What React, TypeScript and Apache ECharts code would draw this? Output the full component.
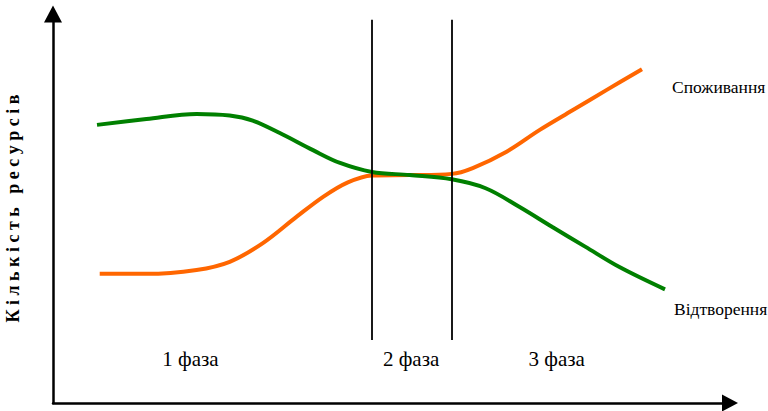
import React, { useEffect, useRef } from "react";
import * as echarts from "echarts";

// x: time (0..100 units), y: quantity of resources (0..100 units)
const consumptionX = [6.9, 13.8, 21.2, 26.1, 31.0, 36.0, 39.9, 43.4, 47.1, 52.7, 58.9, 62.0, 67.0, 71.9, 76.8, 81.8, 87.0];
const consumptionY = [33.2, 33.2, 34.2, 36.3, 41.1, 47.9, 53.0, 56.6, 58.5, 58.6, 58.9, 60.4, 64.6, 70.2, 75.3, 80.5, 85.8];
const reproductionX = [6.5, 13.8, 21.2, 26.1, 29.5, 33.5, 38.4, 42.4, 47.1, 52.7, 58.9, 63.9, 68.8, 73.7, 78.6, 83.6, 90.4];
const reproductionY = [71.5, 73.0, 74.3, 73.9, 72.6, 69.4, 65.0, 61.7, 59.4, 58.6, 57.5, 55.2, 50.5, 45.3, 40.2, 35.0, 29.2];
const phaseBounds = [47.1, 58.9];
const phaseLineRange = [16.2, 98.5];
const phaseLabels = ["1 фаза", "2 фаза", "3 фаза"];
const phaseLabelX = [20.3, 52.9, 74.4];
const phaseLabelY = 11.3;
const seriesNames = ["Споживання", "Відтворення"];
const yAxisTitle = "К і л ь к і с т ь   р е с у р с і в";

export default function App() {
  const ref = useRef<HTMLDivElement>(null);
  useEffect(() => {
    document.body.style.margin = "0";
    const chart = echarts.init(ref.current!, null, { renderer: "svg" });
    const font = "Liberation Serif";
    const zip = (xs: number[], ys: number[]) => xs.map((x, i) => [x, ys[i]]);
    chart.setOption({
      animation: false,
      backgroundColor: "#ffffff",
      textStyle: { fontFamily: font },
      grid: { left: 53, top: 14, right: 38, bottom: 8, containLabel: false, outerBoundsMode: "none" },
      xAxis: {
        type: "value",
        min: 0,
        max: 100,
        axisLine: {
          show: true,
          symbol: ["none", "triangle"],
          symbolSize: [17, 16],
          lineStyle: { color: "#000", width: 2.5 },
        },
        axisTick: { show: false },
        axisLabel: { show: false },
        splitLine: { show: false },
      },
      yAxis: {
        type: "value",
        min: 0,
        max: 100,
        name: yAxisTitle,
        nameLocation: "middle",
        nameGap: 31,
        nameRotate: 90,
        nameTextStyle: { fontFamily: font, fontWeight: "bold", fontSize: 18, color: "#000" },
        axisLine: {
          show: true,
          symbol: ["none", "triangle"],
          symbolSize: [18, 17],
          lineStyle: { color: "#000", width: 2.5 },
        },
        axisTick: { show: false },
        axisLabel: { show: false },
        splitLine: { show: false },
      },
      series: [
        {
          name: seriesNames[0],
          type: "line",
          data: zip(consumptionX, consumptionY),
          smooth: 0.35,
          showSymbol: false,
          lineStyle: { color: "#FF6600", width: 4 },
          endLabel: {
            show: true,
            formatter: seriesNames[0],
            fontFamily: font,
            fontSize: 17.5,
            color: "#000",
            offset: [22, 18],
          },
          markLine: {
            silent: true,
            symbol: "none",
            label: { show: false },
            lineStyle: { color: "#000", width: 1.8, type: "solid" },
            data: phaseBounds.map((x) => [
              { coord: [x, phaseLineRange[0]] },
              { coord: [x, phaseLineRange[1]] },
            ]),
          },
        },
        {
          name: seriesNames[1],
          type: "line",
          data: zip(reproductionX, reproductionY),
          smooth: 0.35,
          showSymbol: false,
          lineStyle: { color: "#008000", width: 4 },
          endLabel: {
            show: true,
            formatter: seriesNames[1],
            fontFamily: font,
            fontSize: 17.5,
            color: "#000",
            offset: [1, 20],
          },
        },
        {
          name: "phases",
          type: "scatter",
          symbolSize: 0,
          itemStyle: { opacity: 1, color: "transparent" },
          data: phaseLabelX.map((x, i) => ({ value: [x, phaseLabelY], name: phaseLabels[i] })),
          label: {
            show: true,
            position: "inside",
            formatter: (p: any) => p.name,
            fontFamily: font,
            fontSize: 21,
            color: "#000",
            opacity: 1,
          },
          silent: true,
        },
      ],
    });
    return () => chart.dispose();
  }, []);
  return <div ref={ref} style={{ width: 768, height: 411 }} />;
}
